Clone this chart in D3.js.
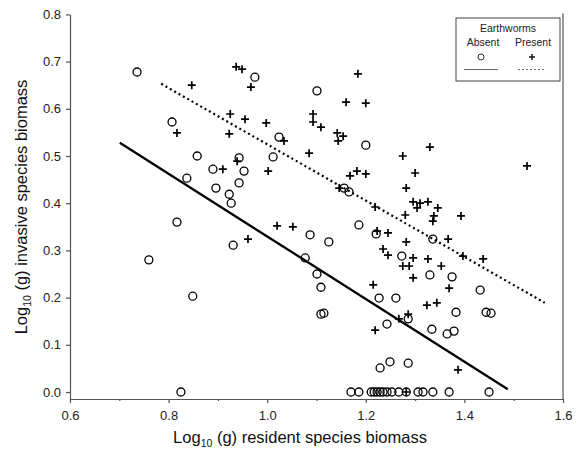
<!DOCTYPE html>
<html>
<head>
<meta charset="utf-8">
<script src="https://cdn.jsdelivr.net/npm/d3@7"></script>
<style>
  html, body { margin: 0; padding: 0; background: #fff; }
  svg { display: block; font-family: "Liberation Sans", Arial, sans-serif; }
</style>
</head>
<body>
<svg id="chart" width="583" height="451"></svg>
<script>
// Earthworms absent: resident (x) vs invasive (y) biomass, log10 g
const absentX = [0.736, 0.807, 0.975, 1.101, 1.024, 1.200, 0.858, 0.943, 1.012, 0.890,
  0.953, 0.837, 0.896, 0.943, 0.923, 0.927, 1.156, 1.166, 0.817, 1.186,
  1.221, 1.087, 1.125, 0.931, 0.760, 1.077, 1.101, 1.109, 0.849, 1.227,
  1.261, 1.336, 1.273, 1.330, 1.375, 1.432, 1.109, 1.115, 1.243, 1.286,
  1.334, 1.365, 1.379, 1.383, 1.444, 1.454, 1.229, 1.249, 1.286, 0.825,
  1.170, 1.186, 1.211, 1.217, 1.223, 1.229, 1.235, 1.243, 1.253, 1.267,
  1.282, 1.306, 1.316, 1.336, 1.369, 1.450];
const absentY = [0.678, 0.572, 0.667, 0.638, 0.540, 0.523, 0.500, 0.496, 0.498, 0.472,
  0.468, 0.453, 0.432, 0.443, 0.419, 0.400, 0.432, 0.424, 0.360, 0.354,
  0.335, 0.333, 0.318, 0.311, 0.280, 0.284, 0.250, 0.222, 0.203, 0.199,
  0.199, 0.324, 0.288, 0.248, 0.244, 0.216, 0.165, 0.167, 0.144, 0.155,
  0.133, 0.123, 0.129, 0.169, 0.169, 0.167, 0.051, 0.064, 0.061, 0.000,
  0.000, 0.000, 0.000, 0.000, 0.000, 0.000, 0.000, 0.000, 0.000, 0.000,
  0.000, 0.000, 0.000, 0.000, 0.000, 0.000];

// Earthworms present
const presentX = [0.847, 0.817, 0.937, 0.949, 0.967, 1.184, 1.160, 1.200, 0.925, 0.955,
  0.998, 0.923, 1.034, 1.093, 1.093, 1.109, 1.142, 1.154, 1.144, 1.085,
  1.275, 1.330, 1.300, 1.168, 1.182, 1.200, 1.282, 1.146, 1.527, 0.910,
  0.939, 1.002, 1.296, 1.310, 1.326, 1.304, 1.346, 1.219, 1.280, 1.338,
  1.336, 1.393, 1.223, 1.245, 1.282, 1.367, 1.235, 1.245, 1.296, 1.326,
  1.397, 1.438, 1.275, 1.288, 1.353, 1.296, 1.369, 1.215, 1.324, 1.344,
  1.020, 1.052, 0.961, 1.219, 1.267, 1.286, 1.387, 1.282];
const presentY = [0.650, 0.549, 0.689, 0.684, 0.646, 0.674, 0.614, 0.612, 0.589, 0.578,
  0.570, 0.547, 0.532, 0.589, 0.572, 0.561, 0.549, 0.542, 0.532, 0.506,
  0.500, 0.519, 0.464, 0.458, 0.468, 0.462, 0.432, 0.432, 0.479, 0.472,
  0.489, 0.468, 0.403, 0.400, 0.403, 0.390, 0.390, 0.392, 0.375, 0.373,
  0.362, 0.373, 0.341, 0.337, 0.318, 0.324, 0.303, 0.290, 0.284, 0.282,
  0.288, 0.282, 0.267, 0.267, 0.267, 0.242, 0.220, 0.227, 0.184, 0.189,
  0.352, 0.350, 0.324, 0.131, 0.155, 0.165, 0.047, 0.000];

// Fitted regression lines (end points)
const absentFitX = [0.701, 1.488];
const absentFitY = [0.528, 0.006];
const presentFitX = [0.785, 1.563];
const presentFitY = [0.653, 0.189];

const xTicks = [0.6, 0.8, 1.0, 1.2, 1.4, 1.6];
const xMinorTicks = [0.7, 0.9, 1.1, 1.3, 1.5];
const yTicks = [0.0, 0.1, 0.2, 0.3, 0.4, 0.5, 0.6, 0.7, 0.8];

const svg = d3.select("#chart");
const axisColor = "#555";
const textColor = "#222";

const x = d3.scaleLinear().domain([0.6, 1.6]).range([70, 563]);
const y = d3.scaleLinear().domain([-0.0148, 0.8]).range([399, 14.4]);

// Left axis
const yAxis = svg.append("g").attr("transform", `translate(${x(0.6)},0)`)
  .call(d3.axisLeft(y).tickValues(yTicks).tickFormat(d3.format(".1f"))
    .tickSize(4).tickPadding(5).tickSizeOuter(0));
// Bottom axis with major and minor ticks
const xAxis = svg.append("g").attr("transform", `translate(0,${y.range()[0]})`)
  .call(d3.axisBottom(x).tickValues(xTicks).tickFormat(d3.format(".1f"))
    .tickSize(4).tickPadding(8).tickSizeOuter(0));
svg.append("g").attr("transform", `translate(0,${y.range()[0]})`)
  .call(d3.axisBottom(x).tickValues(xMinorTicks).tickFormat("").tickSize(2).tickSizeOuter(0))
  .select(".domain").remove();

svg.selectAll(".domain, .tick line").attr("stroke", axisColor).attr("stroke-width", 1.2);
svg.selectAll(".tick text").attr("fill", textColor).attr("font-size", 13)
  .attr("font-family", "'Liberation Sans', Arial, sans-serif");

// Right frame line
svg.append("line")
  .attr("x1", x(1.6)).attr("x2", x(1.6))
  .attr("y1", y(0.8) - 1).attr("y2", y.range()[0])
  .attr("stroke", axisColor).attr("stroke-width", 1.2);

// Axis titles
const xTitle = svg.append("text")
  .attr("x", 300).attr("y", 443)
  .attr("text-anchor", "middle").attr("font-size", 16.5).attr("fill", "#111");
xTitle.append("tspan").text("Log");
xTitle.append("tspan").attr("font-size", 10.5).attr("dy", 4).text("10");
xTitle.append("tspan").attr("dy", -4).text(" (g) resident species biomass");

const yTitle = svg.append("text")
  .attr("transform", "translate(27,207) rotate(-90)")
  .attr("text-anchor", "middle").attr("font-size", 16.5).attr("fill", "#111");
yTitle.append("tspan").text("Log");
yTitle.append("tspan").attr("font-size", 10.5).attr("dy", 4).text("10");
yTitle.append("tspan").attr("dy", -4).text(" (g) invasive species biomass");

// Fitted lines
const line = d3.line().x(d => x(d[0])).y(d => y(d[1]));
svg.append("path")
  .datum(d3.zip(absentFitX, absentFitY))
  .attr("d", line).attr("fill", "none").attr("stroke", "#000").attr("stroke-width", 2.3);
svg.append("path")
  .datum(d3.zip(presentFitX, presentFitY))
  .attr("d", line).attr("fill", "none").attr("stroke", "#000")
  .attr("stroke-width", 2.2).attr("stroke-dasharray", "2 3");

// Points: open circles (absent)
svg.append("g").selectAll("circle")
  .data(d3.zip(absentX, absentY))
  .join("circle")
  .attr("cx", d => x(d[0])).attr("cy", d => y(d[1])).attr("r", 4)
  .attr("fill", "none").attr("stroke", "#000").attr("stroke-width", 1.3);

// Points: plus signs (present)
const ps = 4;
svg.append("g").selectAll("path")
  .data(d3.zip(presentX, presentY))
  .join("path")
  .attr("d", d => {
    const cx = x(d[0]), cy = y(d[1]);
    return `M${cx - ps},${cy}H${cx + ps}M${cx},${cy - ps}V${cy + ps}`;
  })
  .attr("fill", "none").attr("stroke", "#000").attr("stroke-width", 1.7);

// Legend
const lg = svg.append("g");
lg.append("rect").attr("x", 456).attr("y", 18).attr("width", 104).attr("height", 63)
  .attr("fill", "#fff").attr("stroke", "#444").attr("stroke-width", 1);
lg.append("text").attr("x", 508).attr("y", 32).attr("text-anchor", "middle")
  .attr("font-size", 10.5).attr("fill", textColor).text("Earthworms");
lg.append("text").attr("x", 483).attr("y", 46).attr("text-anchor", "middle")
  .attr("font-size", 10.5).attr("fill", textColor).text("Absent");
lg.append("text").attr("x", 533).attr("y", 46).attr("text-anchor", "middle")
  .attr("font-size", 10.5).attr("fill", textColor).text("Present");
lg.append("circle").attr("cx", 481).attr("cy", 57).attr("r", 3)
  .attr("fill", "none").attr("stroke", "#333").attr("stroke-width", 1);
lg.append("path").attr("d", "M529,57H535M532,54V60")
  .attr("stroke", "#111").attr("stroke-width", 1.4);
lg.append("line").attr("x1", 464).attr("x2", 498).attr("y1", 69.5).attr("y2", 69.5)
  .attr("stroke", "#666").attr("stroke-width", 1);
lg.append("line").attr("x1", 518).attr("x2", 546).attr("y1", 69.5).attr("y2", 69.5)
  .attr("stroke", "#666").attr("stroke-width", 1).attr("stroke-dasharray", "2 2");
</script>
</body>
</html>
